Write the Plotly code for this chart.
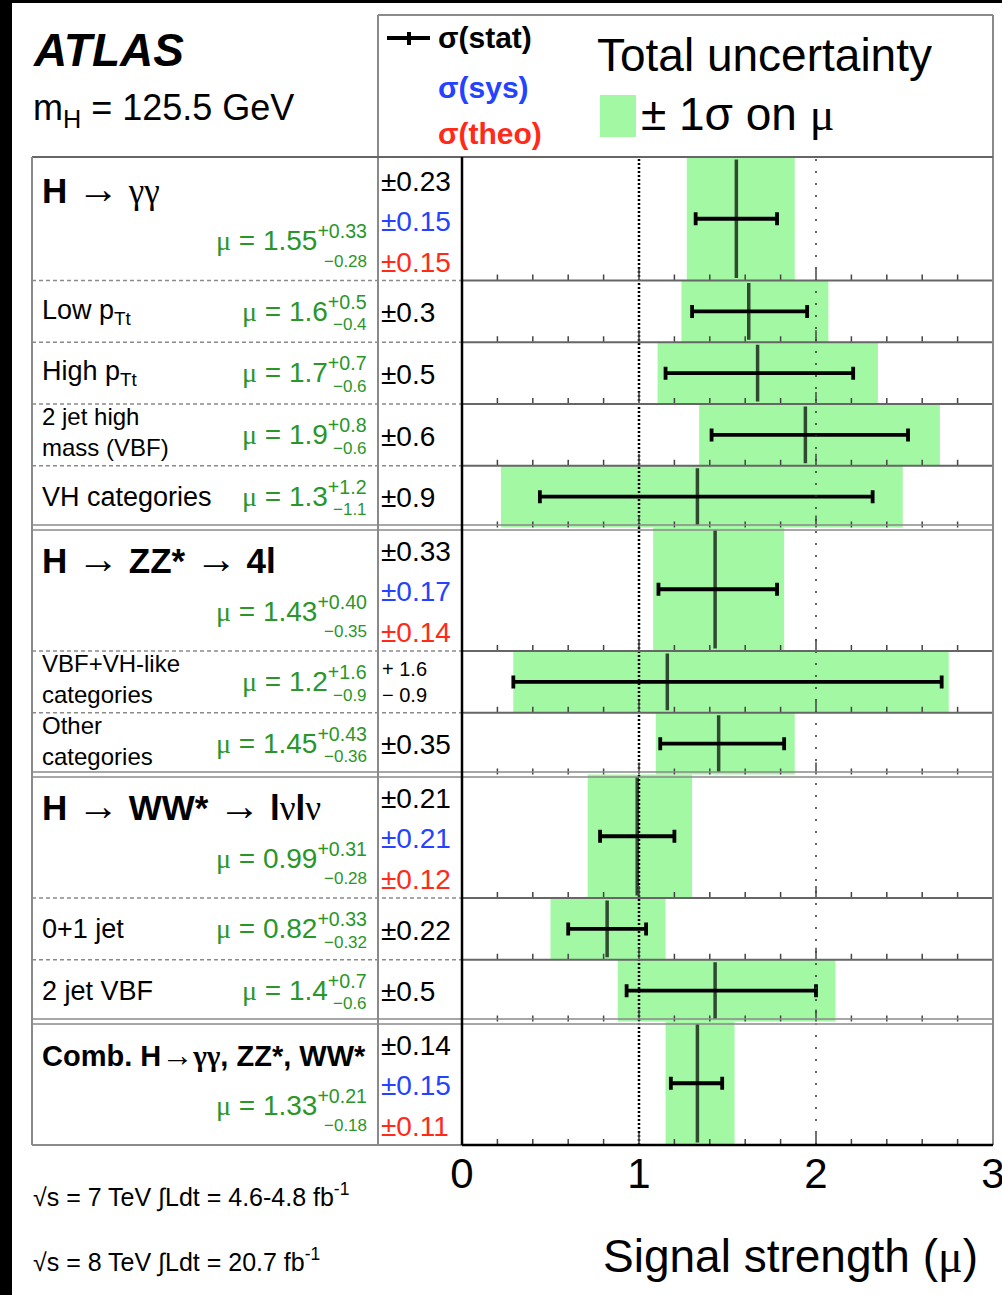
import numpy as np
import plotly.graph_objects as go

# ---------------- data ----------------
SER = '<span style="font-family:Liberation Serif">'


def ARR(px):
    return '<span style="font-family:Liberation Sans;font-weight:normal;font-size:%dpx">→</span>' % px


row_labels = ["<b>H</b> " + ARR(42) + " " + SER + "γγ</span>", "Low p<sub>Tt</sub>", "High p<sub>Tt</sub>",
              "2 jet high<br>mass (VBF)", "VH categories",
              "<b>H</b> " + ARR(42) + " <b>ZZ*</b> " + ARR(42) + " <b>4l</b>",
              "VBF+VH-like<br>categories", "Other<br>categories",
              "<b>H</b> " + ARR(42) + " <b>WW*</b> " + ARR(42) + " <b>l</b>" + SER + "ν</span><b>l</b>" + SER + "ν</span>",
              "0+1 jet", "2 jet VBF",
              "<b>Comb. H</b>" + ARR(32) + "<b>" + SER + "γγ</span>, ZZ*, WW*</b>"]
is_group = [True, False, False, False, False, True, False, False, True, False, False, True]
row_units = [2, 1, 1, 1, 1, 2, 1, 1, 2, 1, 1, 2]

mu_fit = [1.55, 1.62, 1.67, 1.94, 1.33, 1.43, 1.16, 1.45, 0.99, 0.82, 1.43, 1.33]
tot_plus = [0.33, 0.45, 0.68, 0.76, 1.16, 0.39, 1.59, 0.43, 0.31, 0.33, 0.68, 0.21]
tot_minus = [0.28, 0.38, 0.565, 0.60, 1.11, 0.35, 0.87, 0.355, 0.28, 0.32, 0.55, 0.18]
stat_plus = [0.23, 0.33, 0.54, 0.58, 0.99, 0.35, 1.55, 0.37, 0.21, 0.22, 0.57, 0.14]
stat_minus = [0.23, 0.32, 0.52, 0.53, 0.89, 0.32, 0.87, 0.33, 0.21, 0.22, 0.50, 0.15]

mu_text = ["1.55", "1.6", "1.7", "1.9", "1.3", "1.43", "1.2", "1.45", "0.99", "0.82", "1.4", "1.33"]
mu_up_text = ["+0.33", "+0.5", "+0.7", "+0.8", "+1.2", "+0.40", "+1.6", "+0.43", "+0.31", "+0.33", "+0.7", "+0.21"]
mu_dn_text = ["−0.28", "−0.4", "−0.6", "−0.6", "−1.1", "−0.35", "−0.9", "−0.36", "−0.28", "−0.32", "−0.6", "−0.18"]
stat_text = ["±0.23", "±0.3", "±0.5", "±0.6", "±0.9", "±0.33", "+ 1.6<br>− 0.9", "±0.35", "±0.21", "±0.22", "±0.5", "±0.14"]
sys_text = {0: "±0.15", 5: "±0.17", 8: "±0.21", 11: "±0.15"}
theo_text = {0: "±0.15", 5: "±0.14", 8: "±0.12", 11: "±0.11"}

x_ticks = [0, 1, 2, 3]

# ---------------- style / layout ----------------
W, H = 1002, 1295
FONT = "Liberation Sans, Arial, Helvetica, sans-serif"
GREEN_FILL = "#a3f8a3"
GREEN_TXT = "#2a962a"
BLUE = "#2442ff"
RED = "#ff2a18"
GRID = "#8a8a8a"
PLOT_TOP, PLOT_BOT = 157, 1145
X_L, X_M, X_P, X_R = 32, 378, 462, 993
NU = sum(row_units)
UPX = (PLOT_BOT - PLOT_TOP) / NU


def X(px):
    return px / W


def Y(py):
    return 1 - py / H


def U(off):
    return off / UPX


tops = np.concatenate([[0], np.cumsum(row_units)[:-1]]).astype(float)
bots = tops + np.array(row_units)
centers = tops + np.array(row_units) / 2

fig = go.Figure()

# total uncertainty boxes
fig.add_trace(go.Bar(
    orientation="h", y=centers,
    x=[p + m for p, m in zip(tot_plus, tot_minus)],
    base=[c - m for c, m in zip(mu_fit, tot_minus)],
    width=row_units, marker=dict(color=GREEN_FILL, line=dict(width=0)),
    hoverinfo="skip", showlegend=False))

# stat error bars + central value line (line-ns symbol length = 1.4 * size)
fig.add_trace(go.Scatter(
    x=mu_fit, y=centers, mode="markers",
    marker=dict(symbol="line-ns", size=[(u * UPX - 5) / 1.4 for u in row_units],
                color="black", line=dict(width=3.5, color="black")),
    error_x=dict(type="data", symmetric=False, array=stat_plus, arrayminus=stat_minus,
                 thickness=3.8, width=6.5, color="black"),
    hoverinfo="skip", showlegend=False))

shapes = []


def pline(x0, y0, x1, y1, color=GRID, width=2, dash=None):
    d = dict(type="line", xref="paper", yref="paper", x0=X(x0), x1=X(x1), y0=Y(y0), y1=Y(y1),
             line=dict(color=color, width=width), layer="above")
    if dash:
        d["line"]["dash"] = dash
    shapes.append(d)


# black page borders
shapes.append(dict(type="rect", xref="paper", yref="paper", x0=0, x1=X(12), y0=0, y1=1,
                   fillcolor="black", line=dict(width=0), layer="above"))
shapes.append(dict(type="rect", xref="paper", yref="paper", x0=0, x1=1, y0=Y(3), y1=1,
                   fillcolor="black", line=dict(width=0), layer="above"))

# reference lines at mu=1 and mu=2
shapes.append(dict(type="line", xref="x", yref="paper", x0=1, x1=1, y0=Y(PLOT_BOT), y1=Y(PLOT_TOP),
                   line=dict(color="black", width=2.5, dash="2px,2px"), layer="above"))
shapes.append(dict(type="line", xref="x", yref="paper", x0=2, x1=2, y0=Y(PLOT_BOT), y1=Y(PLOT_TOP),
                   line=dict(color="#333", width=1.5, dash="2px,10px"), layer="above"))

# row ticks (bottom of each row)
minor = np.round(np.arange(0.2, 3.0, 0.2), 1)
for i in range(len(row_units)):
    b = bots[i]
    for t in minor:
        ln = 12 if t in (1.0, 2.0) else 6
        shapes.append(dict(type="line", xref="x", yref="y", x0=t, x1=t, y0=b, y1=b - U(ln),
                           line=dict(color="#444", width=1.5), layer="above"))

# row separators
group_bounds = [bots[i] for i in range(len(row_units) - 1) if is_group[i + 1]]
for i in range(len(row_units) - 1):
    b = bots[i]
    ypx = PLOT_TOP + b * UPX
    if b in group_bounds:
        for dy in (-2.5, 2.5):
            pline(X_L, ypx + dy, X_R, ypx + dy, GRID, 1.6)
    else:
        pline(X_L, ypx, X_P, ypx, GRID, 1.5, "4px,3px")
        pline(X_P, ypx, X_R, ypx, "#666", 2)

# frames
pline(X_M, 15, X_R, 15, GRID, 2)
pline(X_M, 15, X_M, PLOT_BOT, GRID, 2)
pline(X_R, 15, X_R, PLOT_BOT, GRID, 2)
pline(X_L, PLOT_TOP, X_R, PLOT_TOP, "#666", 2)
pline(X_L, PLOT_TOP, X_L, PLOT_BOT, GRID, 2)
pline(X_L, PLOT_BOT, X_P, PLOT_BOT, GRID, 2)
pline(X_P, PLOT_BOT, X_R, PLOT_BOT, "black", 2.5)
pline(X_P, PLOT_TOP, X_P, PLOT_BOT, "black", 2.5)

# legend marks
pline(387, 38, 430, 38, "black", 4)
pline(409, 32, 409, 45, "black", 4)
shapes.append(dict(type="rect", xref="paper", yref="paper", x0=X(600), x1=X(636), y0=Y(137), y1=Y(95),
                   fillcolor=GREEN_FILL, line=dict(width=0), layer="above"))

ann = []


def txt(text, x, y, size, color="black", xanchor="left", yref="paper"):
    ann.append(dict(text=text, x=X(x), y=(Y(y) if yref == "paper" else y), xref="paper", yref=yref,
                    xanchor=xanchor, yanchor="middle", showarrow=False, align=xanchor,
                    font=dict(family=FONT, size=size, color=color)))


MU = SER + "μ</span>"
txt("<b><i>ATLAS</i></b>", 31, 50, 46)
txt("m<sub>H</sub> = 125.5 GeV", 31, 110, 36)
txt("<b>σ(stat)</b>", 436, 38, 30)
txt("<b>σ(sys)</b>", 436, 87, 30, BLUE)
txt("<b>σ(theo)</b>", 436, 133, 30, RED)
txt("Total uncertainty", 595, 55, 46)
txt("± 1σ on " + MU, 639, 114, 46)

for i, lab in enumerate(row_labels):
    T = tops[i]
    if is_group[i]:
        last = i == len(row_labels) - 1
        txt(lab, 40, T + U(33 if last else 31), 29 if last else 35, yref="y")
        txt(MU + " = " + mu_text[i] + "<sup>" + mu_up_text[i] + "</sup>", 369, T + U(81), 28, GREEN_TXT, "right", "y")
        txt(mu_dn_text[i], 369, T + U(104), 17, GREEN_TXT, "right", "y")
        txt(stat_text[i], 379, T + U(24), 28, "black", "left", "y")
        txt(sys_text[i], 379, T + U(64), 28, BLUE, "left", "y")
        txt(theo_text[i], 379, T + U(105), 28, RED, "left", "y")
    else:
        two = "<br>" in lab
        txt(lab, 40, T + U(28 if two else 31), 24 if two else 27, yref="y")
        txt(MU + " = " + mu_text[i] + "<sup>" + mu_up_text[i] + "</sup>", 369, T + U(28), 28, GREEN_TXT, "right", "y")
        txt(mu_dn_text[i], 369, T + U(44), 17, GREEN_TXT, "right", "y")
        if "<br>" in stat_text[i]:
            txt(stat_text[i], 380, T + U(31), 20, "black", "left", "y")
        else:
            txt(stat_text[i], 379, T + U(32), 28, "black", "left", "y")

txt("√s = 7 TeV ∫Ldt = 4.6-4.8 fb<sup>-1</sup>", 31, 1195, 25)
txt("√s = 8 TeV ∫Ldt = 20.7 fb<sup>-1</sup>", 31, 1260, 25)
txt("Signal strength (" + MU + ")", 980, 1256, 46, xanchor="right")

fig.update_layout(
    width=W, height=H, margin=dict(l=0, r=0, t=0, b=0, pad=0),
    paper_bgcolor="white", plot_bgcolor="white", template="none",
    showlegend=False, shapes=shapes, annotations=ann,
    xaxis=dict(domain=[X(X_P), X(X_R)], range=[0, 3], tickvals=x_ticks, ticktext=[str(t) for t in x_ticks],
               showgrid=False, zeroline=False, showline=False, ticks="", automargin=False,
               ticklabeloverflow="allow",
               tickfont=dict(family=FONT, size=42, color="black")),
    yaxis=dict(domain=[Y(PLOT_BOT), Y(PLOT_TOP)], range=[NU, 0], showgrid=False, zeroline=False,
               showline=False, showticklabels=False, ticks="", automargin=False),
)

fig.write_html("out.html")
